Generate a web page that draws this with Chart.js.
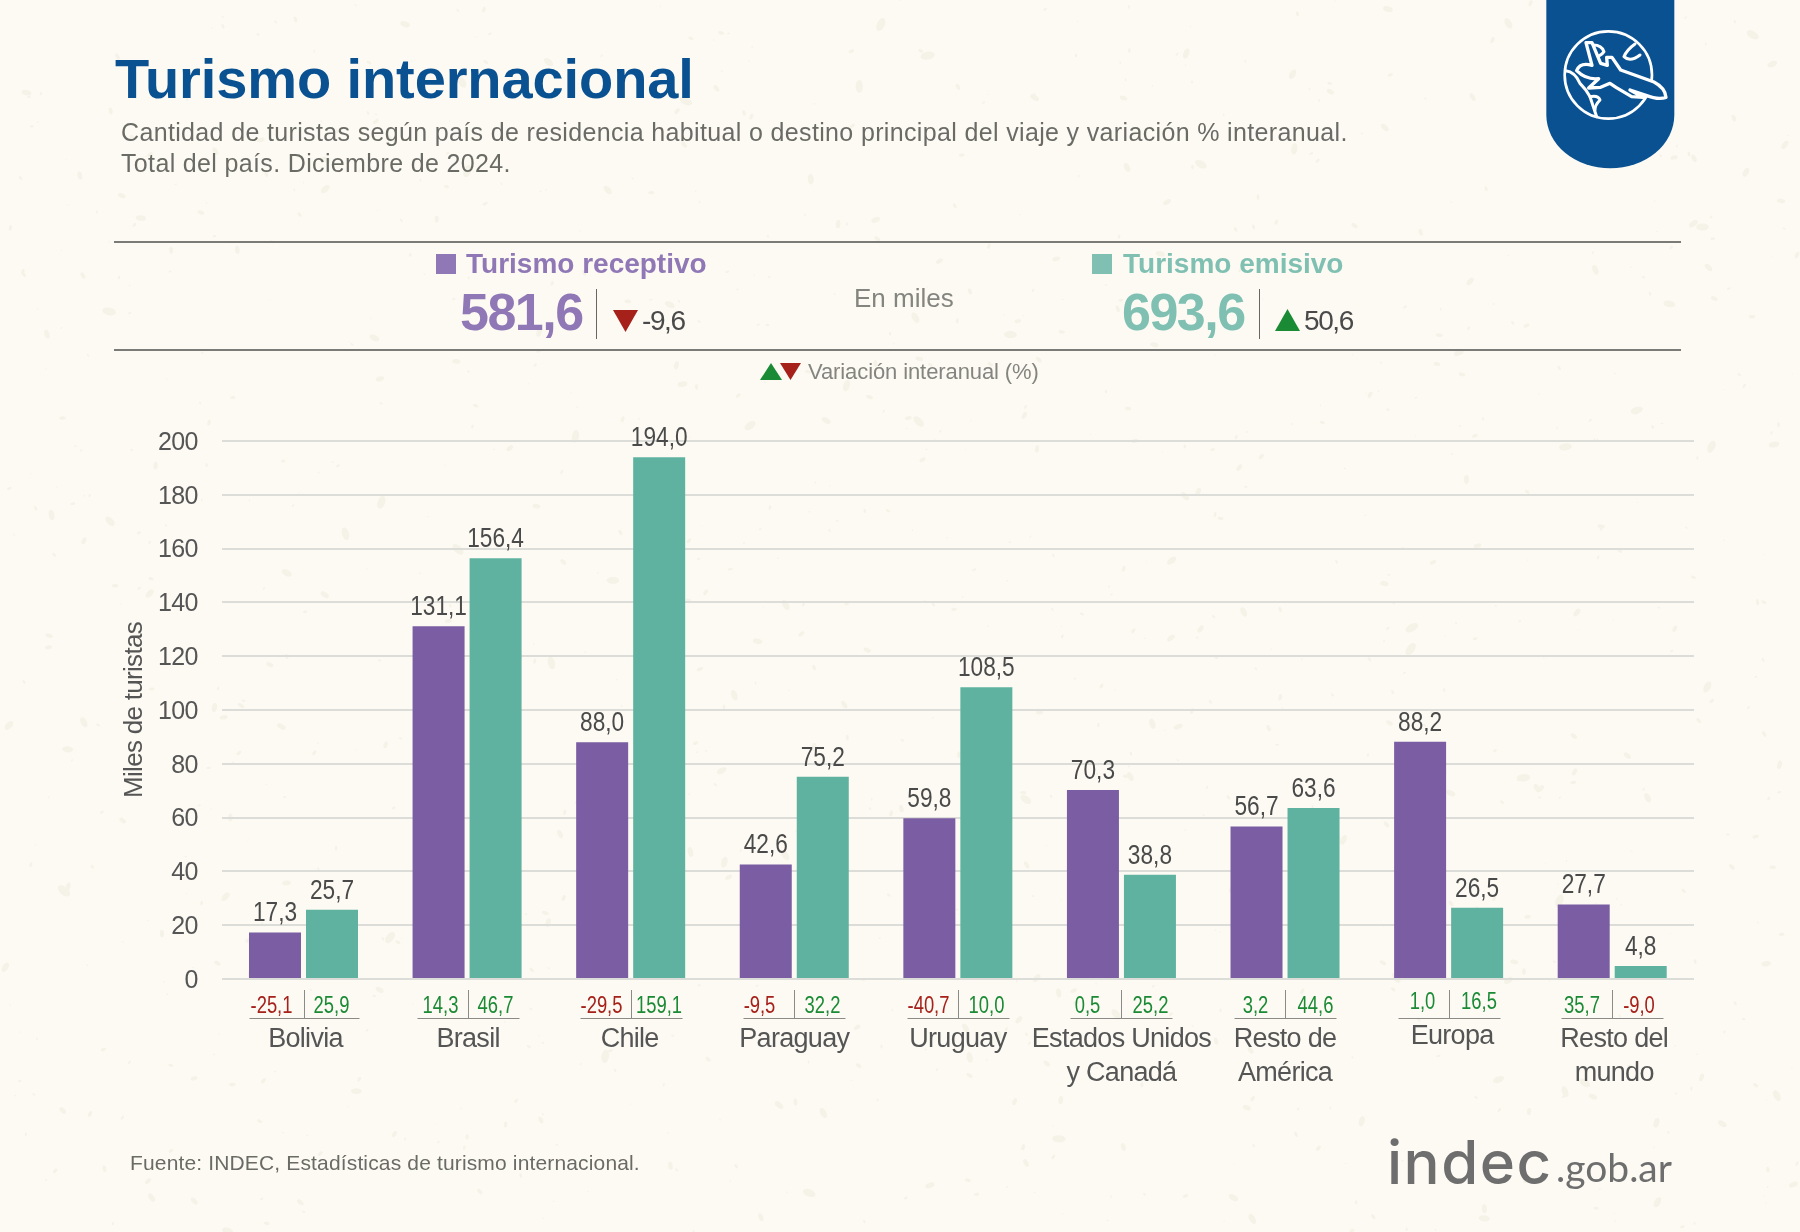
<!DOCTYPE html>
<html lang="es">
<head>
<meta charset="utf-8">
<title>Turismo internacional</title>
<script src="https://cdn.jsdelivr.net/npm/chart.js@4/dist/chart.umd.min.js"></script>
<style>
  html, body { margin: 0; padding: 0; background: #fcfaf3; }
  #pagina { position: relative; width: 1800px; height: 1232px; overflow: hidden; font-family: "Liberation Sans", Arial, sans-serif; }
  #pagina canvas, #pagina svg { position: absolute; left: 0; top: 0; }
  .t { position: absolute; line-height: 1; white-space: nowrap; }
  .regla { position: absolute; left: 114px; width: 1567px; height: 2px; background: #7a7a76; }
  .sep { position: absolute; width: 1px; top: 289px; height: 50px; background: #666; }
  .cuadro { position: absolute; top: 254px; width: 20px; height: 20px; }
</style>
</head>
<body>
<div id="pagina">
  <canvas id="textura" width="1800" height="1232"></canvas>
  <canvas id="grafico" width="1800" height="1232"></canvas>

  <div class="t" style="left:115px;top:51px;font-size:56px;font-weight:700;letter-spacing:-0.1px;color:#0a5192;">Turismo internacional</div>
  <div class="t" style="left:121px;top:120px;font-size:25px;letter-spacing:0.35px;color:#6b6b66;">Cantidad de turistas según país de residencia habitual o destino principal del viaje y variación % interanual.</div>
  <div class="t" style="left:121px;top:151px;font-size:25px;letter-spacing:0.35px;color:#6b6b66;">Total del país. Diciembre de 2024.</div>

  <div class="regla" style="top:241px;"></div>
  <div class="regla" style="top:349px;"></div>

  <div class="cuadro" style="left:436px;background:#8f78b5;"></div>
  <div class="t" style="left:466px;top:250px;font-size:28px;font-weight:700;color:#8f78b5;">Turismo receptivo</div>
  <div class="t" style="left:460px;top:286px;font-size:52px;font-weight:700;letter-spacing:-1.5px;color:#8f78b5;">581,6</div>
  <div class="sep" style="left:596px;"></div>
  <div class="t" style="left:642px;top:307px;font-size:28px;letter-spacing:-1.4px;color:#4a4a4a;">-9,6</div>

  <div class="t" style="left:854px;top:285px;font-size:26px;color:#85857f;">En miles</div>

  <div class="cuadro" style="left:1092px;background:#7fc0b2;"></div>
  <div class="t" style="left:1123px;top:250px;font-size:28px;font-weight:700;color:#7fc0b2;">Turismo emisivo</div>
  <div class="t" style="left:1122px;top:286px;font-size:52px;font-weight:700;letter-spacing:-1.5px;color:#7fc0b2;">693,6</div>
  <div class="sep" style="left:1259px;"></div>
  <div class="t" style="left:1304px;top:307px;font-size:28px;letter-spacing:-1.4px;color:#4a4a4a;">50,6</div>

  <div class="t" style="left:808px;top:361px;font-size:22px;letter-spacing:-0.1px;color:#85857f;">Variación interanual (%)</div>

  <svg width="1800" height="1232" style="pointer-events:none;">
    <polygon points="613,310 638,310 625.5,332" fill="#a5211a"/>
    <polygon points="1275,331 1300,331 1287.5,309" fill="#1b8a35"/>
    <polygon points="760,380 782,380 771,363" fill="#1b8a35"/>
    <polygon points="780,363 801,363 790.5,380" fill="#a5211a"/>
    <!-- escudo con globo y avion -->
    <g transform="translate(1530,0) scale(0.3333)">
      <path d="M49 0H433V345A192 160 0 0 1 49 345Z" fill="#0a5192"/>
      <circle cx="235" cy="225" r="131" fill="none" stroke="#fff" stroke-width="8"/>
      <g fill="none" stroke="#fff" stroke-width="9" stroke-linejoin="round" stroke-linecap="round">
        <path d="M282 170Q290 150 315 132M282 170Q300 188 330 165"/>
        <path d="M190 135Q215 135 222 155Q205 178 192 160Z"/>
        <path d="M107 212Q135 215 150 250Q170 270 180 290Q190 320 200 350"/>
        <path d="M180 290Q205 285 210 300Q195 315 195 330"/>
      </g>
      <g fill="#0a5192" stroke="#fff" stroke-width="10" stroke-linejoin="round">
        <path d="M168 128L186 128L212 190L232 196L230 172L246 172L272 210L372 246Q406 264 408 292Q385 300 348 286L300 270L340 292L305 290L258 262L240 250L212 262L176 264L206 236Q168 240 140 212Q150 186 186 196Z"/>
      </g>
    </g>
  </svg>

  <div class="t" style="left:130px;top:1152px;font-size:21px;letter-spacing:0.15px;color:#6b6b66;">Fuente: INDEC, Estadísticas de turismo internacional.</div>
  <div class="t" style="left:1387px;top:1132px;font-family:Inter,sans-serif;font-weight:500;font-size:60px;letter-spacing:1.5px;color:#6e6e6e;">indec</div>
  <div class="t" style="left:1556px;top:1148px;font-family:Lato,sans-serif;font-size:39px;color:#6e6e6e;">.gob.ar</div>
</div>

<script>
const CATEGORIAS = ["Bolivia", "Brasil", "Chile", "Paraguay", "Uruguay", ["Estados Unidos", "y Canadá"], ["Resto de", "América"], "Europa", ["Resto del", "mundo"]];
const RECEPTIVO = [17.3, 131.1, 88.0, 42.6, 59.8, 70.3, 56.7, 88.2, 27.7];
const EMISIVO = [25.7, 156.4, 194.0, 75.2, 108.5, 38.8, 63.6, 26.5, 4.8];
const VAR_RECEPTIVO = [-25.1, 14.3, -29.5, -9.5, -40.7, 0.5, 3.2, 1.0, 35.7];
const VAR_EMISIVO = [25.9, 46.7, 159.1, 32.2, 10.0, 25.2, 44.6, 16.5, -9.0];

const COLOR_RECEPTIVO = "#7a5da2";
const COLOR_EMISIVO = "#5fb2a0";
const VERDE = "#1b8a35";
const ROJO = "#a5211a";
const FUENTE = '"Liberation Sans", sans-serif';

const coma = (v) => v.toFixed(1).replace(".", ",");

// el original usa una tipografia condensada, se comprime en x
const textoAngosto = (ctx, texto, x, y, k) => {
  ctx.save();
  ctx.translate(x, y);
  ctx.scale(k, 1);
  ctx.fillText(texto, 0, 0);
  ctx.restore();
};

// textura suave del fondo, solo decorativa
const dibujarTextura = () => {
  const ctx = document.getElementById("textura").getContext("2d");
  let semilla = 12345;
  const azar = () => {
    semilla = (semilla * 16807) % 2147483647;
    return semilla / 2147483647;
  };
  ctx.fillStyle = "#f5f2e8";
  for (let i = 0; i < 1100; i++) {
    const r = 0.8 + azar() * azar() * 7;
    ctx.beginPath();
    ctx.ellipse(azar() * 1800, azar() * 1232, r * 0.55, r, azar() * 3.14, 0, Math.PI * 2);
    ctx.fill();
  }
};

// correcciones finas de las etiquetas de los ejes
const ajusteEjes = {
  id: "ajusteEjes",
  afterUpdate(chart) {
    const corrX = [2, 1, -1, 0, 0, 0, 0, 3.5, 2];
    chart.scales.y.getLabelItems().forEach((item) => { item.options.translation[1] += 2; });
    chart.scales.x.getLabelItems().forEach((item, j) => {
      item.options.translation[0] += corrX[j];
      if (j === 7) item.options.translation[1] -= 3;
    });
  },
  beforeDraw(chart) { chart.ctx.letterSpacing = "-0.7px"; },
  beforeDatasetsDraw(chart) { chart.ctx.letterSpacing = "0px"; },
};

const etiquetasBarras = {
  id: "etiquetasBarras",
  afterDatasetsDraw(chart) {
    const { ctx } = chart;
    ctx.save();
    ctx.font = `27px ${FUENTE}`;
    ctx.fillStyle = "#4a4a4a";
    ctx.textAlign = "center";
    ctx.textBaseline = "alphabetic";
    chart.data.datasets.forEach((ds, i) => {
      chart.getDatasetMeta(i).data.forEach((barra, j) => {
        textoAngosto(ctx, coma(ds.data[j]), barra.x, barra.y - 11, 0.84);
      });
    });
    ctx.restore();
  },
};

const filaVariacion = {
  id: "filaVariacion",
  afterDraw(chart) {
    const { ctx } = chart;
    const x = chart.scales.x;
    const corrLinea = [1, 1, 0, 0, 0, 0, 0, 0, 0];
    const corrIzq = [-33, -28, -30, -35, -30, -34, -30, -27, -30.5];
    const corrDer = [27, 27, 27.5, 28, 28, 29, 30, 29.5, 26.5];
    ctx.save();
    ctx.font = `23px ${FUENTE}`;
    ctx.textAlign = "center";
    ctx.textBaseline = "alphabetic";
    VAR_RECEPTIVO.forEach((v, j) => {
      const cx = Math.round(x.getPixelForValue(j)) + corrLinea[j] + 0.5;
      const medio = j === 0 ? 55 : 51;
      ctx.strokeStyle = "#8a8a86";
      ctx.lineWidth = 1;
      ctx.beginPath();
      ctx.moveTo(cx, 990);
      ctx.lineTo(cx, 1018);
      ctx.moveTo(cx - medio, 1018.5);
      ctx.lineTo(cx + medio, 1018.5);
      ctx.stroke();
      const base = j === 7 ? 1009 : 1013;
      ctx.fillStyle = v < 0 ? ROJO : VERDE;
      textoAngosto(ctx, coma(v), cx + corrIzq[j], base, 0.8);
      ctx.fillStyle = VAR_EMISIVO[j] < 0 ? ROJO : VERDE;
      textoAngosto(ctx, coma(VAR_EMISIVO[j]), cx + corrDer[j], base, 0.8);
    });
    ctx.restore();
  },
};

dibujarTextura();

new Chart(document.getElementById("grafico"), {
  type: "bar",
  data: {
    labels: CATEGORIAS,
    datasets: [
      { label: "Turismo receptivo", data: RECEPTIVO, backgroundColor: COLOR_RECEPTIVO, barPercentage: 0.912, categoryPercentage: 0.697 },
      { label: "Turismo emisivo", data: EMISIVO, backgroundColor: COLOR_EMISIVO, barPercentage: 0.912, categoryPercentage: 0.697 },
    ],
  },
  options: {
    responsive: false,
    animation: false,
    devicePixelRatio: 1,
    layout: { padding: { left: 119, top: 441, right: 106, bottom: 0 } },
    plugins: { legend: { display: false }, tooltip: { enabled: false } },
    scales: {
      x: {
        afterFit: (s) => { s.height = 253; },
        grid: { display: false },
        border: { display: false },
        ticks: {
          autoSkip: false,
          maxRotation: 0,
          padding: 36,
          color: "#555",
          font: { size: 27, family: FUENTE, lineHeight: 1.26 },
        },
      },
      y: {
        min: 0,
        max: 200,
        afterFit: (s) => { s.width = 102.7; },
        grid: { color: "#dcdcd9", lineWidth: 2, drawTicks: false },
        border: { display: false },
        ticks: {
          stepSize: 20,
          padding: 24,
          color: "#555",
          font: { size: 25, family: FUENTE },
        },
        title: {
          display: true,
          text: "Miles de turistas",
          color: "#555",
          padding: 0,
          font: { size: 26, family: FUENTE },
        },
      },
    },
  },
  plugins: [ajusteEjes, etiquetasBarras, filaVariacion],
});
</script>
</body>
</html>
